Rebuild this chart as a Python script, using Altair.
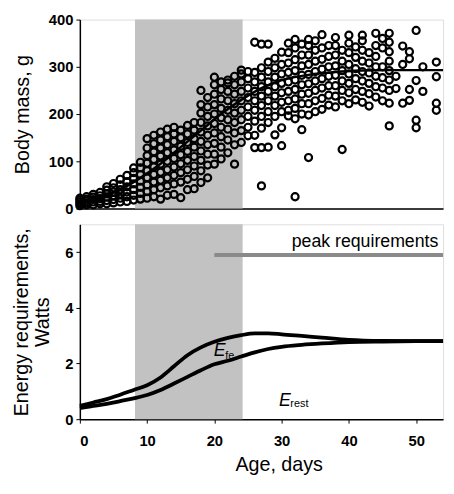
import altair as alt
import pandas as pd

FONT = "Liberation Sans"

# ---------------- data ----------------
shade_start = [8.2]
shade_end = [24.2]

mass_days = list(range(0, 54))
mass_columns = [
    [6, 10, 14, 18, 22],
    [8, 12, 16, 20, 25],
    [8, 14, 19, 24, 30],
    [10, 15, 21, 27, 34],
    [10, 17, 24, 31, 39, 46],
    [12, 19, 27, 35, 44, 53],
    [14, 22, 31, 40, 50, 62],
    [15, 25, 35, 46, 57, 70],
    [18, 28, 40, 52, 64, 76, 86],
    [20, 32, 45, 58, 72, 86, 98],
    [22, 36, 50, 65, 80, 96, 112, 128, 148],
    [25, 40, 56, 72, 88, 104, 120, 137, 155],
    [20, 44, 60, 77, 94, 111, 128, 145, 162],
    [28, 48, 65, 82, 100, 118, 135, 152, 168],
    [30, 52, 70, 88, 106, 124, 142, 158, 172],
    [23, 56, 76, 95, 114, 132, 150, 166],
    [40, 62, 82, 102, 121, 140, 158, 176],
    [42, 68, 90, 110, 130, 148, 166, 182],
    [55, 80, 102, 122, 142, 162, 182, 202, 220, 250],
    [65, 92, 115, 135, 155, 175, 195, 215, 235],
    [94, 115, 138, 160, 180, 200, 220, 242, 262, 278],
    [105, 130, 152, 172, 192, 212, 232, 252, 268],
    [118, 145, 168, 188, 208, 228, 248, 266, 272],
    [94, 135, 160, 182, 202, 222, 242, 262, 280],
    [140, 165, 188, 208, 228, 248, 268, 285, 293],
    [154, 172, 195, 215, 235, 255, 275, 290],
    [129, 155, 185, 208, 228, 248, 268, 288, 352],
    [48, 129, 170, 195, 218, 238, 258, 278, 298, 348],
    [130, 182, 205, 228, 248, 268, 290, 310, 348],
    [156, 195, 218, 238, 258, 278, 298, 318],
    [133, 171, 205, 225, 245, 265, 285, 305, 331],
    [196, 208, 228, 248, 268, 288, 308, 330, 350],
    [25, 190, 212, 232, 252, 272, 292, 315, 340, 358],
    [167, 200, 222, 242, 262, 282, 302, 325, 348],
    [108, 198, 222, 244, 264, 284, 305, 325, 345, 358],
    [205, 228, 250, 270, 290, 312, 335, 355],
    [210, 233, 255, 275, 295, 316, 340, 368],
    [219, 240, 260, 280, 300, 322, 345],
    [215, 238, 260, 282, 302, 325, 345, 362],
    [125, 228, 250, 270, 292, 312, 335],
    [222, 245, 265, 285, 305, 330, 350, 367],
    [230, 252, 275, 296, 320, 342],
    [225, 248, 270, 290, 312, 335, 355, 367],
    [217, 243, 265, 287, 308, 330],
    [236, 258, 280, 300, 322, 345, 371],
    [228, 255, 277, 300, 340, 360],
    [175, 223, 250, 272, 292, 312, 332, 352, 371],
    [254, 280],
    [223, 305, 344],
    [229, 252, 317, 332],
    [171, 187, 271, 377],
    [248, 300],
    [],
    [208, 223, 279, 310],
]

growth_days = [0, 3, 6, 9, 12, 15, 18, 21, 24, 27, 30, 34, 38, 42, 46, 50, 54]
growth_mass = [10, 22, 40, 65, 95, 130, 165, 200, 230, 255, 272, 283, 289, 292, 293, 293, 293]

energy_days = [0, 2, 4, 6, 8, 10, 12, 14, 16, 18, 20, 22, 24, 26, 28, 30, 33, 36, 40, 45, 50, 54]
energy_fe = [0.48, 0.6, 0.72, 0.88, 1.05, 1.22, 1.5, 1.9, 2.3, 2.58, 2.78, 2.92, 3.02, 3.08,
             3.08, 3.05, 2.99, 2.93, 2.85, 2.81, 2.8, 2.8]
energy_rest = [0.4, 0.48, 0.55, 0.65, 0.75, 0.87, 1.05, 1.28, 1.52, 1.76, 1.97, 2.1, 2.25, 2.4,
               2.52, 2.6, 2.67, 2.72, 2.77, 2.79, 2.8, 2.8]

peak_days = [20, 54]
peak_value = [5.9, 5.9]

# ---------------- frames ----------------
shade_df = pd.DataFrame({"start": shade_start, "end": shade_end})
rows = []
for d, col in zip(mass_days, mass_columns):
    for m in col:
        rows.append({"day": d, "mass": m})
scatter_df = pd.DataFrame(rows)
growth_df = pd.DataFrame({"day": growth_days, "mass": growth_mass})
energy_df = pd.concat([
    pd.DataFrame({"day": energy_days, "watts": energy_fe, "series": "fe"}),
    pd.DataFrame({"day": energy_days, "watts": energy_rest, "series": "rest"}),
])
peak_df = pd.DataFrame({"day": peak_days, "watts": peak_value})

xscale = alt.Scale(domain=[0, 54], nice=False, zero=False)

label_style = dict(labelFont=FONT, labelFontSize=15, labelFontWeight="bold", labelColor="black",
                   titleFont=FONT, titleFontWeight="normal", titleColor="black",
                   domainColor="black", domainWidth=1.5, tickColor="black", grid=False)

SHADE = "#c2c2c2"

# ---------------- top panel ----------------
x_top = alt.X("start:Q", scale=xscale,
              axis=alt.Axis(labels=False, ticks=False, title=None, domainColor="black",
                            domainWidth=1.5, grid=False))
shade_top = alt.Chart(shade_df).mark_rect(color=SHADE).encode(x=x_top, x2="end:Q")

y_mass = alt.Y("mass:Q", scale=alt.Scale(domain=[0, 400], nice=False),
               axis=alt.Axis(values=[0, 100, 200, 300, 400], title="Body mass, g", titleFontSize=20,
                             tickSize=4, labelPadding=3, titlePadding=16, **label_style))

growth = alt.Chart(growth_df).mark_line(color="black", strokeWidth=2.5, interpolate="monotone").encode(
    x=alt.X("day:Q", scale=xscale), y=y_mass)

scatter = alt.Chart(scatter_df).mark_point(
    shape="circle", filled=False, stroke="black", strokeWidth=2.2, size=52, opacity=1
).encode(x=alt.X("day:Q", scale=xscale), y=y_mass)

top = alt.layer(shade_top, growth, scatter).properties(width=369, height=192)

# ---------------- bottom panel ----------------
x_bot_axis = alt.Axis(values=[0, 10, 20, 30, 40, 50], title="Age, days", titleFontSize=20,
                      tickSize=4, labelPadding=11, titlePadding=6, titleX=202, **label_style)
shade_bot = alt.Chart(shade_df).mark_rect(color=SHADE).encode(
    x=alt.X("start:Q", scale=xscale, axis=x_bot_axis), x2="end:Q")

y_watts = alt.Y("watts:Q", scale=alt.Scale(domain=[0, 7], nice=False),
                axis=alt.Axis(values=[0, 2, 4, 6], title=["Energy requirements,", "Watts"],
                              titleFontSize=20, tickSize=4, labelPadding=3, titlePadding=12,
                              titleLineHeight=22, **label_style))

peak_line = alt.Chart(peak_df).mark_line(color="#8a8a8a", strokeWidth=4).encode(
    x=alt.X("day:Q", scale=xscale), y=y_watts)

curves = alt.Chart(energy_df).mark_line(color="black", strokeWidth=3.8, interpolate="monotone").encode(
    x=alt.X("day:Q", scale=xscale), y=y_watts, detail="series:N")

peak_text = alt.Chart(pd.DataFrame({"day": [53.3], "watts": [6.19], "t": ["peak requirements"]})).mark_text(
    font=FONT, fontSize=18, align="right", baseline="alphabetic", color="black"
).encode(x=alt.X("day:Q", scale=xscale), y=y_watts, text="t:N")

e_main = alt.Chart(pd.DataFrame({"day": [19.9, 29.6], "watts": [2.26, 0.49], "t": ["E", "E"]})).mark_text(
    font=FONT, fontSize=18, fontStyle="italic", align="left", baseline="alphabetic", color="black"
).encode(x=alt.X("day:Q", scale=xscale), y=y_watts, text="t:N")

e_sub = alt.Chart(pd.DataFrame({"day": [21.6, 31.3], "watts": [2.16, 0.42], "t": ["fe", "rest"]})).mark_text(
    font=FONT, fontSize=11, align="left", baseline="alphabetic", color="black"
).encode(x=alt.X("day:Q", scale=xscale), y=y_watts, text="t:N")

bottom = alt.layer(shade_bot, peak_line, curves, peak_text, e_main, e_sub).properties(width=369, height=198)

chart = alt.vconcat(top, bottom, spacing=16, bounds="flush").properties(
    padding={"left": 3, "top": 0, "right": -6, "bottom": 0}
).configure_view(stroke="black", strokeWidth=1.5).configure(background="white")

chart.save("out.html", embed_options={"renderer": "svg", "actions": False})
